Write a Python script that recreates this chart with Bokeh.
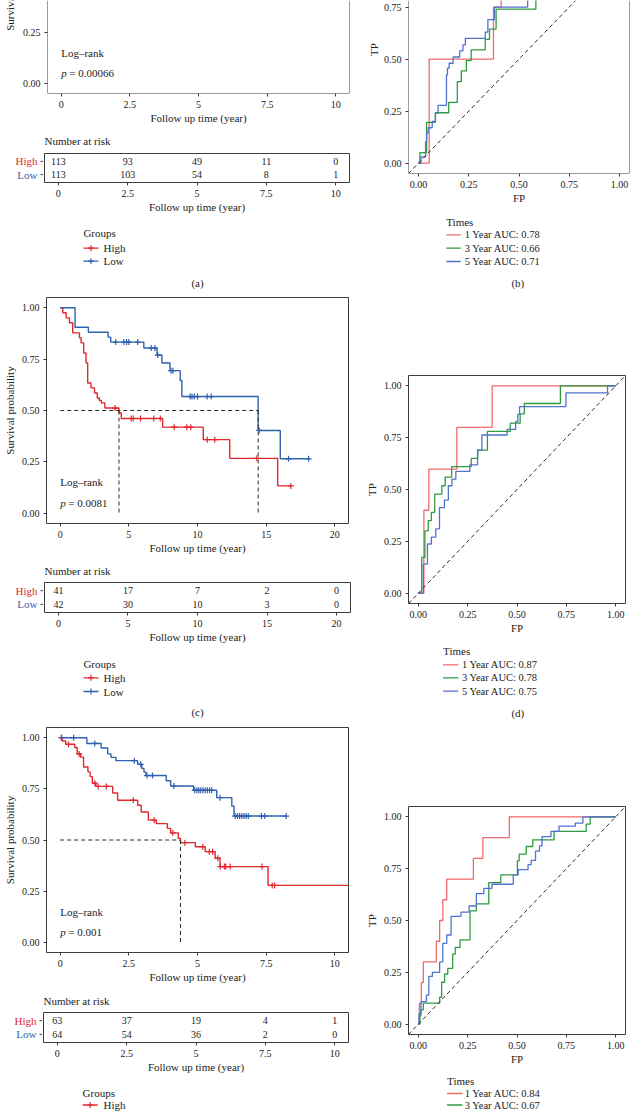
import numpy as np
from bokeh.plotting import figure
from bokeh.models import Range1d, FixedTicker, Label, Span, Slope, ColumnDataSource
from bokeh.layouts import column, row
from bokeh.embed import file_html
from bokeh.resources import INLINE
from bokeh.core.properties import value

# ============================ DATA ============================
time_label = "Follow up time (year)"
surv_label = "Survival probability"
group_names = ["High", "Low"]
roc_names = ["1 Year", "3 Year", "5 Year"]

surv_ticks = [0, 0.25, 0.5, 0.75, 1.0]
surv_tick_text = ["0.00", "0.25", "0.50", "0.75", "1.00"]

# ---- panel (a): KM (curves lie above the visible crop) + risk table
a_pval = "0.00066"
a_ticks = [0, 2.5, 5, 7.5, 10]
a_tick_text = ["0", "2.5", "5", "7.5", "10"]
a_risk_high = [113, 93, 49, 11, 0]
a_risk_low = [113, 103, 54, 8, 1]

# ---- panel (b): time-dependent ROC
b_fp1 = [0, 0.053, 0.373, 0.411, 1.0]
b_tp1 = [0, 0.50, 0.75, 1.0, 1.0]
b_fp3 = [0, 0.007, 0.040, 0.084, 0.150, 0.193, 0.213, 0.238, 0.262, 0.332, 0.353, 0.386, 0.584, 0.700, 0.850, 1.0]
b_tp3 = [0, 0.050, 0.196, 0.242, 0.292, 0.392, 0.443, 0.493, 0.544, 0.595, 0.644, 0.740, 0.840, 0.900, 1.0, 1.0]
b_fp5 = [0, 0.012, 0.035, 0.040, 0.048, 0.068, 0.084, 0.097, 0.139, 0.144, 0.152, 0.172, 0.205, 0.221, 0.233, 0.332, 0.345, 0.378, 0.543, 0.650, 0.800, 1.0]
b_tp5 = [0, 0.030, 0.103, 0.144, 0.170, 0.200, 0.240, 0.278, 0.424, 0.456, 0.480, 0.510, 0.540, 0.568, 0.600, 0.630, 0.690, 0.750, 0.880, 0.940, 1.0, 1.0]
b_auc = ["0.78", "0.66", "0.71"]

# ---- panel (c): KM
c_pval = "0.0081"
c_ticks = [0, 5, 10, 15, 20]
c_tick_text = ["0", "5", "10", "15", "20"]
c_high_t = [0, 0.19, 0.43, 0.67, 0.91, 1.40, 1.52, 1.71, 1.88, 2.00, 2.24, 2.50, 2.70, 2.85, 3.00, 3.25, 4.28, 4.45, 7.46, 10.42, 12.35, 15.84, 16.80]
c_high_s = [1.0, 0.976, 0.951, 0.927, 0.878, 0.854, 0.829, 0.780, 0.732, 0.634, 0.610, 0.585, 0.561, 0.549, 0.537, 0.512, 0.488, 0.461, 0.419, 0.358, 0.267, 0.133, 0.133]
c_high_cens = [3.99, 5.17, 5.32, 5.85, 6.81, 7.29, 8.30, 9.22, 9.51, 10.71, 11.26, 14.32, 16.80]
c_low_t = [0, 1.08, 2.05, 3.49, 3.68, 6.09, 7.05, 7.41, 8.00, 8.74, 8.86, 14.42, 16.03, 18.10]
c_low_s = [1.0, 0.905, 0.881, 0.857, 0.833, 0.804, 0.770, 0.731, 0.694, 0.646, 0.568, 0.403, 0.265, 0.265]
c_low_cens = [4.04, 4.64, 4.84, 5.00, 5.64, 6.63, 6.90, 7.10, 8.07, 8.21, 9.46, 9.60, 9.77, 10.00, 10.70, 11.00, 14.50, 16.63, 18.10]
c_medians = [4.28, 14.42]
c_risk_high = [41, 17, 7, 2, 0]
c_risk_low = [42, 30, 10, 3, 0]

# ---- panel (d): ROC
d_fp1 = [0, 0.028, 0.053, 0.195, 0.374, 1.0]
d_tp1 = [0, 0.40, 0.598, 0.80, 1.0, 1.0]
d_fp3 = [0, 0.017, 0.033, 0.050, 0.066, 0.083, 0.119, 0.136, 0.169, 0.268, 0.301, 0.350, 0.466, 0.516, 0.537, 0.720, 1.0]
d_tp3 = [0, 0.173, 0.300, 0.350, 0.390, 0.478, 0.518, 0.560, 0.610, 0.650, 0.690, 0.780, 0.820, 0.865, 0.915, 1.0, 1.0]
d_fp5 = [0, 0.025, 0.046, 0.066, 0.088, 0.107, 0.132, 0.152, 0.170, 0.190, 0.261, 0.300, 0.322, 0.450, 0.493, 0.504, 0.513, 0.748, 0.959, 1.0]
d_tp5 = [0, 0.140, 0.237, 0.270, 0.310, 0.413, 0.449, 0.518, 0.550, 0.587, 0.619, 0.690, 0.763, 0.790, 0.827, 0.862, 0.900, 0.966, 1.0, 1.0]
d_auc = ["0.87", "0.78", "0.75"]

# ---- panel (e): KM
e_pval = "0.001"
e_ticks = [0, 2.5, 5, 7.5, 10]
e_tick_text = ["0", "2.5", "5", "7.5", "10"]
e_high_t = [0, 0.07, 0.20, 0.53, 0.62, 0.74, 0.85, 1.01, 1.09, 1.17, 1.30, 1.91, 2.09, 2.82, 2.95, 3.21, 3.50, 3.90, 4.02, 4.30, 4.38, 4.92, 5.28, 5.64, 5.82, 7.57, 10.72]
e_high_s = [1.0, 0.984, 0.968, 0.952, 0.921, 0.905, 0.857, 0.833, 0.810, 0.778, 0.762, 0.730, 0.694, 0.670, 0.637, 0.597, 0.580, 0.557, 0.535, 0.508, 0.487, 0.467, 0.443, 0.411, 0.370, 0.278, 0.278]
e_high_cens = [0.04, 0.30, 0.69, 1.26, 1.38, 1.68, 2.66, 3.42, 4.10, 4.54, 5.19, 5.43, 5.55, 5.74, 5.83, 5.98, 6.03, 6.19, 7.35, 7.72, 7.81]
e_low_t = [0, 0.97, 1.49, 1.73, 1.85, 2.03, 2.82, 2.97, 3.05, 3.12, 3.86, 4.02, 4.86, 5.70, 6.25, 6.33, 8.23]
e_low_s = [1.0, 0.972, 0.950, 0.921, 0.904, 0.888, 0.870, 0.850, 0.832, 0.815, 0.790, 0.764, 0.743, 0.707, 0.665, 0.617, 0.617]
e_low_cens = [0.05, 0.49, 1.26, 2.70, 2.93, 3.16, 3.36, 4.14, 4.90, 4.98, 5.05, 5.12, 5.20, 5.28, 5.36, 5.44, 5.52, 5.82, 6.37, 6.45, 6.53, 6.61, 6.69, 6.77, 6.85, 7.33, 7.45, 8.23]
e_medians = [4.38]
e_risk_high = [63, 37, 19, 4, 1]
e_risk_low = [64, 54, 36, 2, 0]

# ---- panel (f): ROC
f_fp1 = [0, 0.005, 0.015, 0.025, 0.091, 0.108, 0.124, 0.144, 0.279, 0.327, 0.461, 1.0]
f_tp1 = [0, 0.10, 0.20, 0.30, 0.40, 0.50, 0.60, 0.70, 0.80, 0.90, 1.0, 1.0]
f_fp3 = [0, 0.008, 0.013, 0.025, 0.108, 0.118, 0.133, 0.149, 0.174, 0.187, 0.211, 0.262, 0.294, 0.357, 0.418, 0.502, 0.511, 0.547, 0.580, 0.688, 0.851, 0.871, 1.0]
f_tp3 = [0, 0.040, 0.069, 0.101, 0.130, 0.202, 0.242, 0.269, 0.338, 0.370, 0.407, 0.546, 0.580, 0.683, 0.720, 0.788, 0.820, 0.857, 0.889, 0.930, 0.965, 1.0, 1.0]
f_fp5 = [0, 0.003, 0.013, 0.041, 0.053, 0.071, 0.108, 0.124, 0.144, 0.166, 0.216, 0.257, 0.294, 0.332, 0.373, 0.481, 0.506, 0.556, 0.572, 0.594, 0.614, 0.627, 0.672, 0.713, 0.796, 0.834, 1.0]
f_tp5 = [0, 0.050, 0.109, 0.140, 0.230, 0.250, 0.300, 0.390, 0.430, 0.520, 0.540, 0.570, 0.630, 0.655, 0.675, 0.720, 0.745, 0.770, 0.790, 0.835, 0.860, 0.905, 0.930, 0.955, 0.970, 1.0, 1.0]
f_auc = ["0.84", "0.67", "0.71"]

# ============================ STYLE ============================
FONT = "Liberation Serif"
TXT = "#222222"
FRAME = "#3c3c3c"
DASH = "#2a2a2a"
KM_RED = "#E0282E"
KM_BLUE = "#2F62AE"
ROC_RED = "#F06A6A"
ROC_GREEN = "#2F9B40"
ROC_BLUE = "#5073D2"
km_colors = [KM_RED, KM_BLUE]
roc_colors = [ROC_RED, ROC_GREEN, ROC_BLUE]

W_L, W_R = 360, 270


def surv_at(ts, ss, t):
    i = int(np.searchsorted(np.asarray(ts), t, side="right")) - 1
    return ss[max(i, 0)]


def canvas(w, h, y_range=None, mbt=0, mbb=0):
    p = figure(width=w, height=h, x_range=Range1d(0, w),
               y_range=y_range if y_range is not None else Range1d(0, h),
               x_axis_location=None, y_axis_location=None,
               output_backend="svg", toolbar_location=None,
               min_border_left=0, min_border_right=0, min_border_top=mbt, min_border_bottom=mbb)
    p.xgrid.visible = False
    p.ygrid.visible = False
    p.outline_line_color = None
    return p


def put_text(p, xs, ys, texts, size="11px", color=TXT, align="left", style="normal", angle=0):
    p.text(x=xs, y=ys, text=texts, angle=angle, text_font=value(FONT),
           text_font_size=value(size), text_font_style=style, text_color=color,
           text_align=align, text_baseline="middle")


def frame_fig(w, h, mb, x_range, y_range, outline=True):
    mbl, mbr, mbt, mbb = mb
    p = figure(width=w, height=h, x_range=x_range, y_range=y_range,
               output_backend="svg", toolbar_location=None,
               min_border_left=mbl, min_border_right=mbr, min_border_top=mbt, min_border_bottom=mbb)
    p.xgrid.visible = False
    p.ygrid.visible = False
    if outline:
        p.outline_line_color = FRAME
        p.outline_line_width = 1
        p.outline_line_alpha = 1
    else:
        p.outline_line_color = None
        for loc, dim in ((x_range.start, "height"), (x_range.end, "height"), (y_range.start, "width")):
            p.add_layout(Span(location=loc, dimension=dim, line_color=FRAME, line_width=1))
    return p


def style_axis(ax, ticks, tick_text, title=None):
    ax.ticker = FixedTicker(ticks=ticks)
    ax.major_label_overrides = {t: s for t, s in zip(ticks, tick_text)}
    ax.axis_line_color = None
    ax.major_tick_line_color = FRAME
    ax.major_tick_line_width = 1
    ax.major_tick_in = 0
    ax.major_tick_out = 3
    ax.minor_tick_line_color = None
    ax.major_label_text_font = FONT
    ax.major_label_text_font_size = "10px"
    ax.major_label_text_color = TXT
    ax.major_label_standoff = 4
    if title:
        ax.axis_label = title
        ax.axis_label_text_font = FONT
        ax.axis_label_text_font_size = "11px"
        ax.axis_label_text_font_style = "normal"
        ax.axis_label_text_color = TXT
        ax.axis_label_standoff = 1


def in_label(**kw):
    base = dict(text_font=FONT, text_font_size="11px", text_color=TXT,
                text_baseline="middle", text_align="left")
    base.update(kw)
    return Label(**base)


def km_fig(w, h, mb, xr, ticks, tick_text, curves, medians, pval, crop_unit=None):
    frame_h = h - mb[2] - mb[3]
    if crop_unit:
        yr = Range1d(-0.05, -0.05 + frame_h / crop_unit)
    else:
        yr = Range1d(-0.05, 1.05)
    p = frame_fig(w, h, mb, Range1d(*xr), yr, outline=crop_unit is None)
    style_axis(p.xaxis[0], ticks, tick_text, title=time_label)
    style_axis(p.yaxis[0], surv_ticks, surv_tick_text, title=None if crop_unit else surv_label)
    p.yaxis[0].axis_label_standoff = 3
    for ts, ss, cens, colr in curves:
        p.step(x=ts, y=ss, mode="after", line_color=colr, line_width=1.4)
        p.scatter(x=cens, y=[surv_at(ts, ss, c) for c in cens], marker="cross",
                  size=6, line_color=colr, line_width=1.2)
    if medians:
        x0 = [0] + list(medians)
        x1 = [max(medians)] + list(medians)
        y0 = [0.5] * (len(medians) + 1)
        y1 = [0.5] + [0] * len(medians)
        p.segment(x0=x0, y0=y0, x1=x1, y1=y1, line_color=DASH, line_dash="4 3", line_width=1)
    p.add_layout(in_label(x=0, y=0.15, text="Log\u2013rank"))
    p.add_layout(in_label(x=0, y=0.05, text="p", text_font_style="italic"))
    p.add_layout(in_label(x=0, y=0.05, x_offset=8, text="= " + pval))
    return p


def risk_block(top, bot, title_y, split, ft, fb, fl, fr, xr, ticks, tick_text, high, low):
    # title strip
    th = split - top
    t = canvas(W_L, th)
    put_text(t, [fl], [th - (title_y - top)], ["Number at risk"])
    # row: label strip + table
    h = bot - split
    mbt, mbb = ft - split, bot - fb
    yr = (0.4, 2.6)
    sw = fl - 1
    s = canvas(sw, h, y_range=Range1d(*yr), mbt=mbt, mbb=mbb)
    put_text(s, [sw - 6, sw - 6], [2, 1], group_names, color=km_colors, align="right")
    s.segment(x0=[sw - 3, sw - 3], x1=[sw + 1, sw + 1], y0=[2, 1], y1=[2, 1],
              line_color=FRAME, line_width=1)
    p = frame_fig(W_L - sw, h, (1, W_L - fr, mbt, mbb), Range1d(*xr), Range1d(*yr))
    p.yaxis.visible = False
    style_axis(p.xaxis[0], ticks, tick_text, title=time_label)
    n = len(ticks)
    src = ColumnDataSource(dict(x=list(ticks) * 2, y=[2] * n + [1] * n,
                                t=[str(v) for v in list(high) + list(low)]))
    p.text(x="x", y="y", text="t", source=src, text_align="center", text_baseline="middle",
           text_font=value(FONT), text_font_size=value("10px"), text_color=TXT)
    return column(t, row(s, p, spacing=0), spacing=0)


def roc_fig(w, h, mb, curves, crop_unit=None):
    frame_h = h - mb[2] - mb[3]
    if crop_unit:
        yr = Range1d(-0.05, -0.05 + frame_h / crop_unit)
    else:
        yr = Range1d(-0.05, 1.05)
    p = frame_fig(w, h, mb, Range1d(-0.05, 1.05), yr, outline=crop_unit is None)
    style_axis(p.xaxis[0], surv_ticks, surv_tick_text, title="FP")
    style_axis(p.yaxis[0], surv_ticks, surv_tick_text, title=None if crop_unit else "TP")
    p.yaxis[0].axis_label_standoff = 3
    for fp, tp, colr in curves:
        p.step(x=fp, y=tp, mode="after", line_color=colr, line_width=1.3)
    p.add_layout(Slope(gradient=1, y_intercept=0, line_color=DASH, line_dash="4 3", line_width=1))
    return p


def legend_canvas(w, h, title, labels, colors, title_y, row_ys, left, glyph_w, text_x,
                  marker, item_size="11px", panel=None):
    p = canvas(w, h)
    put_text(p, [left], [h - title_y], [title])
    n = len(row_ys)
    labels, colors = list(labels)[:n], list(colors)[:n]
    ys = [h - y for y in row_ys]
    p.segment(x0=[left] * n, x1=[left + glyph_w] * n, y0=ys, y1=ys, line_color=colors, line_width=1.3)
    if marker:
        p.scatter(x=[left + glyph_w / 2] * n, y=ys, marker="cross", size=6,
                  line_color=colors, line_width=1.2)
    put_text(p, [text_x] * n, ys, labels, size=item_size)
    if panel:
        txt, px_, py_ = panel
        put_text(p, [px_], [h - py_], [txt], align="center")
    return p


# ============================ LEFT COLUMN ============================
strip_a = canvas(19, 128)
put_text(strip_a, [9], [128 + 19], [surv_label], align="center", angle=np.pi / 2)
km_a = km_fig(W_L - 19, 128, (25, 11, 0, 35), (-0.5, 10.5), a_ticks, a_tick_text,
              [], [], a_pval, crop_unit=204)
L1 = row(strip_a, km_a, spacing=0)
L2 = risk_block(128, 215, 140, 146, 153, 183, 44, 349, (-0.5, 10.5), a_ticks, a_tick_text,
                a_risk_high, a_risk_low)
L3 = legend_canvas(W_L, 77, "Groups", group_names, km_colors, 17.7, [32.7, 45.7], 44, 18, 68,
                   True, panel=("(a)", 180, 67.7))
L4 = km_fig(W_L, 264, (44, 10, 5, 33), (-1, 21), c_ticks, c_tick_text,
            [(c_high_t, c_high_s, c_high_cens, KM_RED), (c_low_t, c_low_s, c_low_cens, KM_BLUE)],
            c_medians, c_pval)
L5 = risk_block(556, 645, 570, 576, 582, 612, 44, 350, (-1, 21), c_ticks, c_tick_text,
                c_risk_high, c_risk_low)
L6 = legend_canvas(W_L, 75, "Groups", group_names, km_colors, 18.3, [32.3, 46.0], 44, 18, 68,
                   True, panel=("(c)", 180, 66.7))
L7 = km_fig(W_L, 265, (43, 12, 7, 32), (-0.5, 10.5), e_ticks, e_tick_text,
            [(e_high_t, e_high_s, e_high_cens, KM_RED), (e_low_t, e_low_s, e_low_cens, KM_BLUE)],
            e_medians, e_pval)
L8 = risk_block(985, 1075, 1000, 1005, 1012, 1042, 43, 348, (-0.5, 10.5), e_ticks, e_tick_text,
                e_risk_high, e_risk_low)
# bottom legend: only the rows that fit above the page edge
L9 = legend_canvas(W_L, 36, "Groups", group_names, km_colors, 17, [29.5], 43, 18, 68, True)

# ============================ RIGHT COLUMN ============================
strip_b = canvas(20, 208)
put_text(strip_b, [13], [208 - 59], ["TP"], align="center", angle=np.pi / 2)
roc_b = roc_fig(W_R - 20, 208, (27, 1, 0, 35),
                [(b_fp1, b_tp1, ROC_RED), (b_fp3, b_tp3, ROC_GREEN), (b_fp5, b_tp5, ROC_BLUE)],
                crop_unit=208)
R1 = row(strip_b, roc_b, spacing=0)
R2 = legend_canvas(W_R, 87, "Times", [f"{t} AUC: {a}" for t, a in zip(roc_names, b_auc)],
                   roc_colors, 13, [26.3, 39.7, 53], 47, 18, 70, False, item_size="10.5px",
                   panel=("(b)", 136, 74.7))
R3 = roc_fig(W_R, 345, (43, 5, 80, 37),
             [(d_fp1, d_tp1, ROC_RED), (d_fp3, d_tp3, ROC_GREEN), (d_fp5, d_tp5, ROC_BLUE)])
R4 = legend_canvas(W_R, 85, "Times", [f"{t} AUC: {a}" for t, a in zip(roc_names, d_auc)],
                   roc_colors, 10.7, [24.3, 37.3, 50.7], 43, 19, 66.5, False, item_size="10.5px",
                   panel=("(d)", 136, 72))
R5 = roc_fig(W_R, 343, (48, 1, 81, 34),
             [(f_fp1, f_tp1, ROC_RED), (f_fp3, f_tp3, ROC_GREEN), (f_fp5, f_tp5, ROC_BLUE)])
# bottom legend: only the rows that fit above the page edge
R6 = legend_canvas(W_R, 43, "Times", [f"{t} AUC: {a}" for t, a in zip(roc_names, f_auc)],
                   roc_colors, 12.5, [25, 36.5], 48, 19, 70, False, item_size="10.5px")

layout = row(column(L1, L2, L3, L4, L5, L6, L7, L8, L9, spacing=0),
             column(R1, R2, R3, R4, R5, R6, spacing=0), spacing=0)
open("out.html", "w").write(file_html(layout, INLINE, title="Survival and ROC"))
